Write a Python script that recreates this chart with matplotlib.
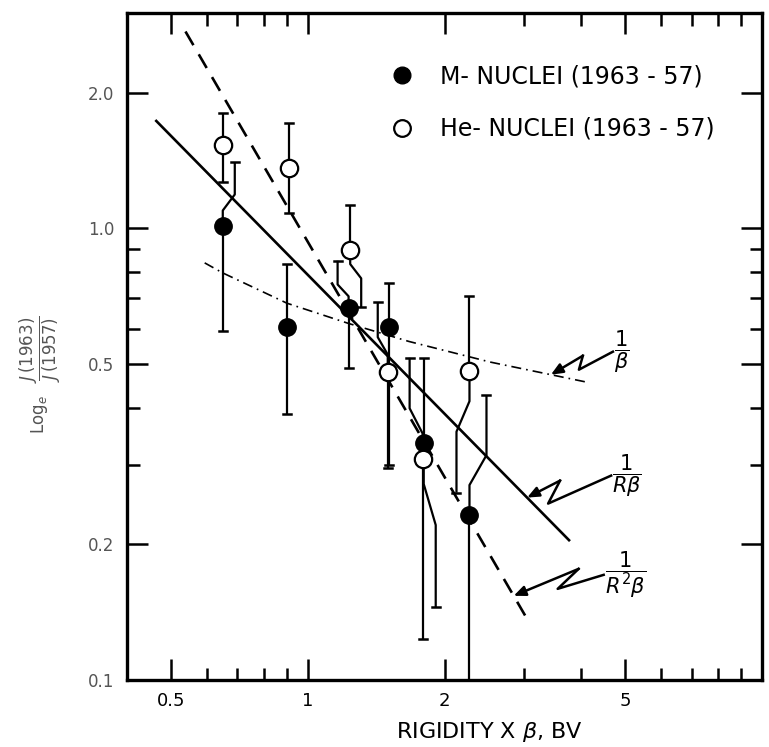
import numpy as np
import matplotlib
matplotlib.use('Agg')
import matplotlib.pyplot as plt
import matplotlib.transforms as mtransforms
from matplotlib.lines import Line2D
from matplotlib.ticker import FixedLocator, FixedFormatter, LogLocator, NullFormatter

# M-nuclei (filled circles)
m_x = [0.65, 0.90, 1.23, 1.51, 1.80, 2.27]
m_y = [1.01, 0.604, 0.666, 0.604, 0.335, 0.232]
m_hi = [1.40, 0.835, 0.848, 0.757, 0.517, 0.427]
m_lo = [0.594, 0.388, 0.49, 0.30, 0.145, 0.09]

# He-nuclei (open circles)
he_x = [0.65, 0.91, 1.24, 1.50, 1.79, 2.27]
he_y = [1.53, 1.36, 0.897, 0.481, 0.309, 0.484]
he_hi = [1.80, 1.71, 1.125, 0.686, 0.517, 0.708]
he_lo = [1.27, 1.08, 0.67, 0.295, 0.123, 0.26]

# error bars that were drawn to one side of the point (shift in pixels)
m_hi_shift = [12, 0, -11, 0, 0, 17]
m_lo_shift = [0, 0, 0, 0, 12, 0]
he_hi_shift = [0, 0, 0, -10, -13, 0]
he_lo_shift = [0, 0, 11, 0, 0, -13]

# curves
rb_x = [0.464, 3.76]
rb_y = [1.73, 0.204]
r2b_x = [0.538, 3.06]
r2b_y = [2.73, 0.135]
b_x = [0.593, 0.65, 0.90, 1.23, 1.67, 2.52, 4.10]
b_y = [0.839, 0.797, 0.683, 0.616, 0.562, 0.506, 0.457]

x_ticks = [0.5, 1, 2, 5]
x_labels = ['0.5', '1', '2', '5']
y_ticks = [0.1, 0.2, 0.5, 1.0, 2.0]
y_labels = ['0.1', '0.2', '0.5', '1.0', '2.0']

W, H = 769, 747
fig = plt.figure(figsize=(W / 100, H / 100), dpi=100)
ax = fig.add_axes([127 / W, 1 - 680 / H, 635 / W, 667 / H])
ax.set_xscale('log')
ax.set_yscale('log')
ax.set_xlim(0.4, 10)
ax.set_ylim(0.1, 3.0)

PX_DEC = 635 / np.log10(10 / 0.4)
CAP = 10 ** (4 / PX_DEC)


def draw_bar(x, y, lim, shift):
    f = 10 ** (shift / PX_DEC)
    if shift == 0:
        xs, ys = [x, x], [y, lim]
    else:
        ly, ll = np.log10(y), np.log10(lim)
        ya = 10 ** (ly + 0.25 * (ll - ly))
        yb = 10 ** (ly + 0.5 * (ll - ly))
        xs, ys = [x, x, x * f, x * f], [y, ya, yb, lim]
    ax.plot(xs, ys, color='k', lw=1.6, zorder=2, solid_capstyle='butt')
    ax.plot([x * f / CAP, x * f * CAP], [lim, lim], color='k', lw=1.8, zorder=2)


for i in range(len(m_x)):
    draw_bar(m_x[i], m_y[i], m_hi[i], m_hi_shift[i])
    draw_bar(m_x[i], m_y[i], m_lo[i], m_lo_shift[i])
for i in range(len(he_x)):
    draw_bar(he_x[i], he_y[i], he_hi[i], he_hi_shift[i])
    draw_bar(he_x[i], he_y[i], he_lo[i], he_lo_shift[i])

ax.plot(rb_x, rb_y, color='k', lw=1.9, zorder=3)
ax.plot(r2b_x, r2b_y, color='k', lw=1.9, dashes=(6, 4), zorder=3)
ax.plot(b_x, b_y, color='k', lw=1.2, dashes=(6, 3, 1, 3), zorder=3)

ax.plot(m_x, m_y, 'o', ms=12.5, mfc='k', mec='k', zorder=5)
ax.plot(he_x, he_y, 'o', ms=12.5, mfc='white', mec='k', mew=1.6, zorder=5)

# ticks
ax.xaxis.set_major_locator(FixedLocator(x_ticks))
ax.xaxis.set_major_formatter(FixedFormatter(x_labels))
ax.xaxis.set_minor_locator(LogLocator(subs=np.arange(2, 10)))
ax.xaxis.set_minor_formatter(NullFormatter())
ax.yaxis.set_major_locator(FixedLocator(y_ticks))
ax.yaxis.set_major_formatter(FixedFormatter(y_labels))
ax.yaxis.set_minor_locator(LogLocator(subs=np.arange(2, 10)))
ax.yaxis.set_minor_formatter(NullFormatter())
ax.tick_params(which='both', direction='in', top=True, right=True, width=1.8)
ax.tick_params(which='major', length=15)
ax.tick_params(which='minor', length=9)
ax.tick_params(axis='x', labelsize=13, pad=9)
ax.tick_params(axis='y', labelsize=12, pad=9, labelcolor='#555555')
for s in ax.spines.values():
    s.set_linewidth(2.4)

ax.set_xlabel(r'RIGIDITY X $\beta$, BV', fontsize=16)
ax.xaxis.set_label_coords(0.57, -0.06)
fig.text(40 / W, 1 - 375 / H, r'Log$_e$   $\dfrac{J\,(1963)}{J\,(1957)}$',
         rotation=90, ha='center', va='center', fontsize=12, color='#555555')

# legend
handles = [Line2D([], [], ls='none', marker='o', ms=12, mfc='k', mec='k'),
           Line2D([], [], ls='none', marker='o', ms=12, mfc='white', mec='k', mew=1.6)]
ax.legend(handles, ['M- NUCLEI (1963 - 57)', 'He- NUCLEI (1963 - 57)'],
          loc='upper left', bbox_to_anchor=(0.40, 0.937), frameon=False,
          fontsize=17, handlelength=1.0, handletextpad=1.1, labelspacing=1.2,
          borderaxespad=0)

# zigzag pointers (pixel offsets from the tip, image y pointing down)
notes = [
    (b_x, b_y, 3.43, [(32, -19), (28, -5), (62, -23)], r'$\dfrac{1}{\beta}$'),
    (rb_x, rb_y, 3.04, [(33, -17), (21, 6), (84, -22)], r'$\dfrac{1}{R\beta}$'),
    (r2b_x, r2b_y, 2.84, [(65, -27), (44, -7), (90, -21)], r'$\dfrac{1}{R^2\beta}$'),
]
ident = mtransforms.IdentityTransform()
for lx, ly, tx, zz, lab in notes:
    ty = 10 ** np.interp(np.log10(tx), np.log10(lx), np.log10(ly))
    px, py = ax.transData.transform((tx, ty))
    pts = [(px + dx, py - dy) for dx, dy in zz]
    ax.annotate('', xy=(px, py), xycoords='figure pixels',
                xytext=pts[0], textcoords='figure pixels',
                arrowprops=dict(arrowstyle='-|>,head_length=0.7,head_width=0.3',
                                lw=1.8, color='k', shrinkA=0, shrinkB=0))
    ax.add_line(Line2D([p[0] for p in pts], [p[1] for p in pts], color='k', lw=1.8,
                       transform=ident, clip_on=False))
    ax.text(pts[-1][0] + 1, pts[-1][1], lab, transform=ident, ha='left', va='center',
            fontsize=15)

fig.savefig('out.png', dpi=100)
